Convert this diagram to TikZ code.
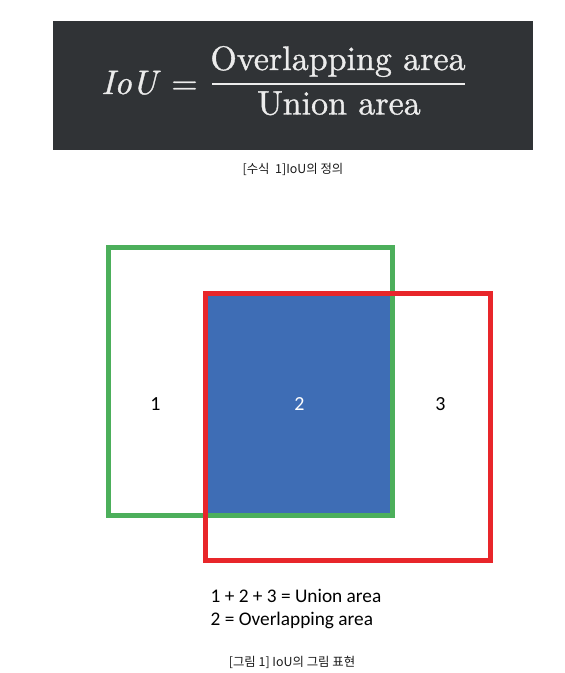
\documentclass[tikz,border=0pt]{standalone}
\usepackage{fontspec}
\setmainfont{Latin Modern Roman}
\newfontfamily\eqfont{lmroman10-regular.otf}[ItalicFont=lmroman10-italic.otf, FakeBold=1.0, ItalicFeatures={FakeBold=1.0}]
\newfontfamily\kofont{Noto Sans CJK KR}
\newfontfamily\cafont{Carlito}
\definecolor{darkbg}{HTML}{303336}
\definecolor{eqtext}{HTML}{ECECEC}
\definecolor{boxgreen}{HTML}{4CAF5B}
\definecolor{boxred}{HTML}{E8262A}
\definecolor{boxblue}{HTML}{3E6DB5}
\tikzset{
  eqpart/.style={font=\eqfont\fontsize{34}{40}\selectfont, text=eqtext, inner sep=0pt, anchor=base},
  caption/.style={font=\kofont\fontsize{12.4}{14}\selectfont, text=black!90, inner sep=0pt},
  regionlabel/.style={font=\cafont\fontsize{20}{22}\selectfont, inner sep=0pt},
  legendtext/.style={font=\cafont\fontsize{19.3}{23}\selectfont, inner sep=0pt, align=left},
  framebox/.style={line width=5pt},
}
\begin{document}
\begin{tikzpicture}[x=1pt,y=-1pt]
\useasboundingbox (0,0) rectangle (565,673);
% equation panel
\fill[darkbg] (53,21) rectangle (533,150);
\node[eqpart, anchor=base west] (iou) at (101,94) {\itshape IoU};
\node[eqpart] (eqs) at (184.5,94) {=};
\node[eqpart] (num) at (338,70) {Overlapping area};
\node[eqpart] (den) at (339,114.5) {Union area};
\coordinate (barl) at (212,84);
\coordinate (barr) at (465,84);
\draw[eqtext, line width=2pt] (barl) -- (barr);
\node[caption] (cap1) at (293,169) {[수식\ \ 1]IoU의 정의};
% boxes
\fill[boxblue] (205.5,293) rectangle (392.5,515);
\draw[framebox, boxgreen] (108.5,247) rectangle (392.5,515);
\draw[framebox, boxred] (205.5,293) rectangle (490,560);
\node[regionlabel] (l1) at (155.5,404) {1};
\node[regionlabel, text=white] (l2) at (299.5,404) {2};
\node[regionlabel] (l3) at (440.5,404) {3};
\node[legendtext, anchor=north west] (leg) at (210.5,589) {1 + 2 + 3 = Union area\\2 = Overlapping area};
\node[caption] (cap2) at (292,662) {[그림 1] IoU의 그림 표현};
\end{tikzpicture}
\end{document}
